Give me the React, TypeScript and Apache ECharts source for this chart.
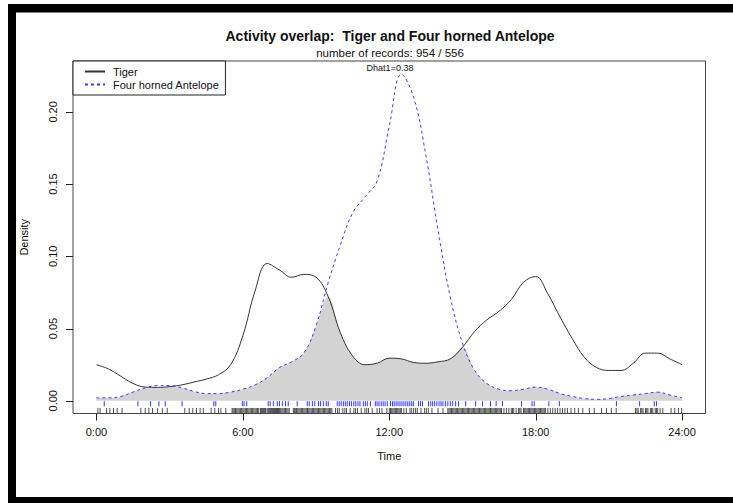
import React, { useEffect, useRef } from "react";
import * as echarts from "echarts";

// Time of day (hours) at which the kernel densities are sampled
const hours = [
  0, 0.5, 1, 1.5, 2, 2.5, 3, 3.5, 4, 4.5, 5, 5.5, 6, 6.5, 7, 7.5, 8, 8.5, 9, 9.5,
  10, 10.5, 11, 11.5, 12, 12.5, 13, 13.5, 14, 14.5, 15, 15.5, 16, 16.5, 17, 17.5,
  18, 18.5, 19, 19.5, 20, 20.5, 21, 21.5, 22, 22.5, 23, 23.5, 24,
];

// Activity density of tiger
const tigerDensity = [
  0.025, 0.022, 0.017, 0.012, 0.0095, 0.0093, 0.0098, 0.011, 0.013, 0.015, 0.018,
  0.025, 0.045, 0.076, 0.095, 0.0905, 0.0855, 0.0875, 0.0855, 0.072, 0.047, 0.031,
  0.025, 0.026, 0.0295, 0.029, 0.0265, 0.026, 0.027, 0.029, 0.037, 0.048, 0.056,
  0.062, 0.07, 0.082, 0.086, 0.074, 0.058, 0.043, 0.03, 0.023, 0.021, 0.021,
  0.026, 0.033, 0.033, 0.029, 0.025,
];

// Activity density of four horned antelope
const antelopeDensity = [
  0.002, 0.002, 0.003, 0.006, 0.009, 0.0105, 0.0105, 0.009, 0.0065, 0.005, 0.005,
  0.006, 0.008, 0.011, 0.016, 0.023, 0.027, 0.033, 0.052, 0.082, 0.108, 0.13,
  0.141, 0.152, 0.19, 0.226, 0.21, 0.17, 0.118, 0.072, 0.04, 0.021, 0.012, 0.008,
  0.007, 0.008, 0.0095, 0.008, 0.005, 0.003, 0.0015, 0.001, 0.0015, 0.003, 0.004,
  0.005, 0.006, 0.004, 0.002,
];

// Record times (hours) for the rug marks
const antelopeTimes = [
  0.32, 1.7, 2.22, 2.56, 2.82, 3.51, 4.81, 4.89, 5.98, 6.05, 6.16, 7.04, 7.12, 7.25,
  7.41, 7.5, 7.62, 7.75, 7.86, 8.23, 8.64, 8.72, 8.85, 8.95, 9.1, 9.18, 9.3, 9.42,
  9.5, 9.87, 9.95, 10.03, 10.12, 10.2, 10.28, 10.37, 10.45, 10.55, 10.63, 10.72,
  10.8, 10.94, 11.02, 11.1, 11.23, 11.43, 11.5, 11.58, 11.67, 11.75, 11.83, 11.92,
  12.05, 12.13, 12.2, 12.28, 12.36, 12.44, 12.52, 12.6, 12.68, 12.76, 12.84, 12.92,
  12.99, 13.2, 13.28, 13.36, 13.61, 13.7, 13.78, 13.86, 13.95, 14.04, 14.12, 14.2,
  14.3, 14.4, 14.5, 14.6, 14.72, 14.84, 15.13, 15.54, 15.82, 16.15, 16.38, 16.64,
  17.42, 17.85, 17.94, 18.54, 18.97, 21.31, 22.26, 22.86, 22.95,
];

const tigerTimes = [
  0.06, 0.15, 0.42, 0.55, 0.7, 0.85, 1.05, 1.82, 2.0, 2.15, 2.3, 2.5, 2.7, 2.9, 3.62,
  3.8, 3.95, 4.1, 4.25, 4.38, 4.7, 4.85, 5.0, 5.1, 5.3, 5.56, 5.6, 5.65, 5.7, 5.75,
  5.8, 5.85, 5.9, 5.95, 6.0, 6.05, 6.1, 6.15, 6.2, 6.25, 6.3, 6.35, 6.4, 6.45, 6.5,
  6.55, 6.6, 6.65, 6.72, 6.76, 6.8, 6.84, 6.88, 6.92, 6.95, 7.02, 7.06, 7.1, 7.14,
  7.18, 7.22, 7.26, 7.3, 7.34, 7.38, 7.42, 7.46, 7.5, 7.55, 7.6, 7.65, 7.7, 7.75,
  7.8, 7.85, 7.9, 8.07, 8.11, 8.15, 8.2, 8.25, 8.3, 8.35, 8.4, 8.45, 8.5, 8.55, 8.6,
  8.65, 8.7, 8.75, 8.8, 8.85, 8.9, 8.95, 9.0, 9.05, 9.1, 9.15, 9.2, 9.25, 9.3, 9.35,
  9.4, 9.45, 9.5, 9.55, 9.6, 9.65, 9.8, 9.88, 9.95, 10.1, 10.18, 10.25, 10.4, 10.55,
  10.62, 10.7, 10.85, 11.0, 11.08, 11.15, 11.3, 11.5, 11.6, 11.7, 11.9, 12.0, 12.05,
  12.1, 12.15, 12.2, 12.25, 12.3, 12.35, 12.4, 12.45, 12.5, 12.6, 12.7, 12.85, 12.92,
  13.0, 13.08, 13.15, 13.3, 13.45, 13.52, 13.6, 13.75, 14.0, 14.2, 14.4, 14.45, 14.5,
  14.55, 14.6, 14.65, 14.7, 14.75, 14.8, 14.85, 14.9, 14.95, 15.0, 15.05, 15.1, 15.15,
  15.2, 15.25, 15.3, 15.35, 15.4, 15.45, 15.5, 15.55, 15.6, 15.65, 15.7, 15.75, 15.8,
  15.85, 15.9, 15.95, 16.0, 16.05, 16.1, 16.15, 16.2, 16.25, 16.3, 16.35, 16.4, 16.45,
  16.5, 16.55, 16.6, 16.7, 16.8, 16.9, 17.0, 17.05, 17.1, 17.2, 17.3, 17.35, 17.4,
  17.5, 17.55, 17.6, 17.65, 17.7, 17.75, 17.8, 17.85, 17.9, 17.95, 18.0, 18.05, 18.1,
  18.15, 18.2, 18.25, 18.3, 18.35, 18.4, 18.5, 18.6, 18.7, 18.8, 18.9, 19.0, 19.1,
  19.2, 19.3, 19.45, 19.6, 19.75, 19.93, 20.2, 20.4, 20.7, 20.9, 21.1, 21.3, 22.09,
  22.15, 22.2, 22.3, 22.35, 22.4, 22.5, 22.55, 22.6, 22.7, 22.75, 22.8, 22.9, 22.95,
  23.0, 23.1, 23.21, 23.55, 23.7, 23.85, 23.98,
];

const xTicks = [0, 6, 12, 18, 24];
const yTicks = [0, 0.05, 0.1, 0.15, 0.2];

const X_MIN = -0.96;
const X_MAX = 24.96;
const Y_MIN = -0.0088;
const Y_MAX = 0.2352;

const titleText = "Activity overlap:  Tiger and Four horned Antelope";
const subtitleText = "number of records: 954 / 556";
const overlapText = "Dhat1=0.38";

const FONT = "'Liberation Sans', Arial, Helvetica, sans-serif";
const TICK_LEN = 7;

export default function App() {
  const ref = useRef<HTMLDivElement>(null);

  useEffect(() => {
    document.body.style.margin = "0";
    if (!ref.current) return;
    const chart = echarts.init(ref.current, null, { renderer: "svg" });

    const overlap = hours.map((h, i) => [h, Math.min(tigerDensity[i], antelopeDensity[i])]);

    const baseGraphic: any[] = [
      { type: "rect", shape: { x: 8, y: 4, width: 725, height: 8.5 }, style: { fill: "#000" } },
      { type: "rect", shape: { x: 8, y: 4, width: 8, height: 499 }, style: { fill: "#000" } },
      { type: "rect", shape: { x: 8, y: 497, width: 725, height: 6 }, style: { fill: "#000" } },
      {
        type: "text",
        x: 390,
        y: 36,
        style: { text: titleText, font: `bold 14px ${FONT}`, fill: "#111", textAlign: "center", textVerticalAlign: "middle", align: "center", verticalAlign: "middle" },
      },
      {
        type: "text",
        x: 390,
        y: 52.5,
        style: { text: subtitleText, font: `11.5px ${FONT}`, fill: "#111", textAlign: "center", textVerticalAlign: "middle", align: "center", verticalAlign: "middle" },
      },
      {
        type: "text",
        x: 390,
        y: 68,
        z: 10,
        style: { text: overlapText, font: `9px ${FONT}`, fill: "#111", textAlign: "center", textVerticalAlign: "middle", align: "center", verticalAlign: "middle" },
      },
    ];

    const option: any = {
      animation: false,
      backgroundColor: "#ffffff",
      textStyle: { fontFamily: FONT },
      grid: { left: 73, right: 27.5, top: 61, bottom: 89.5, show: true, borderColor: "#444", borderWidth: 1, backgroundColor: "transparent" },
      legend: {
        data: ["Tiger", "Four horned Antelope"],
        orient: "vertical",
        left: 73,
        top: 61,
        padding: [5, 6, 5, 11],
        itemWidth: 20,
        itemHeight: 10,
        itemGap: 2,
        borderColor: "#222",
        borderWidth: 1,
        backgroundColor: "#fff",
        itemStyle: { opacity: 0 },
        textStyle: { fontSize: 11, color: "#111", fontFamily: FONT, padding: [0, 0, 0, 3] },
      },
      xAxis: {
        type: "value",
        min: X_MIN,
        max: X_MAX,
        name: "Time",
        nameLocation: "middle",
        nameGap: 37,
        nameTextStyle: { fontSize: 11, color: "#111", fontFamily: FONT },
        axisLine: { show: false, onZero: false },
        splitLine: { show: false },
        axisTick: { show: false },
        axisLabel: {
          customValues: xTicks,
          formatter: (v: number) => `${v}:00`,
          fontSize: 11,
          color: "#111",
          margin: 13,
          fontFamily: FONT,
        },
      },
      yAxis: {
        type: "value",
        min: Y_MIN,
        max: Y_MAX,
        name: "Density",
        nameLocation: "middle",
        nameGap: 44,
        nameTextStyle: { fontSize: 11, color: "#111", fontFamily: FONT },
        axisLine: { show: false, onZero: false },
        splitLine: { show: false },
        axisTick: { show: false },
        axisLabel: {
          customValues: yTicks,
          formatter: (v: number) => v.toFixed(2),
          rotate: 90,
          fontSize: 11,
          color: "#111",
          margin: 15,
          fontFamily: FONT,
        },
      },
      series: [
        {
          name: "overlap",
          type: "line",
          data: overlap,
          smooth: 0.4,
          showSymbol: false,
          symbol: "none",
          lineStyle: { width: 0 },
          areaStyle: { color: "#d3d3d3", opacity: 1 },
          silent: true,
          z: 1,
        },
        {
          name: "Tiger",
          type: "line",
          data: hours.map((h, i) => [h, tigerDensity[i]]),
          smooth: 0.4,
          symbol: "none",
          color: "#333333",
          lineStyle: { width: 1, color: "#333333" },
          z: 3,
        },
        {
          name: "Four horned Antelope",
          type: "line",
          data: hours.map((h, i) => [h, antelopeDensity[i]]),
          smooth: 0.4,
          symbol: "none",
          color: "#3b3bff",
          lineStyle: { width: 1, color: "#3b3bff", type: [3, 3] },
          z: 3,
        },
        {
          name: "antelope records",
          type: "scatter",
          data: antelopeTimes.map((t) => [t, -0.002]),
          symbol: "rect",
          symbolSize: [1, 5],
          itemStyle: { color: "#0000ff" },
          silent: true,
          z: 2,
        },
        {
          name: "tiger records",
          type: "scatter",
          data: tigerTimes.map((t) => [t, -0.0068]),
          symbol: "rect",
          symbolSize: [1, 5],
          itemStyle: { color: "#222222" },
          silent: true,
          z: 2,
        },
      ],
      graphic: baseGraphic,
    };

    chart.setOption(option);

    // Outward tick marks, positioned through the axis scales
    const tickLines: any[] = [];
    xTicks.forEach((v) => {
      const p = chart.convertToPixel({ gridIndex: 0 }, [v, Y_MIN]) as number[];
      if (p) {
        const x = Math.round(p[0]) + 0.5;
        tickLines.push({
          type: "line",
          z: 20,
          shape: { x1: x, y1: p[1], x2: x, y2: p[1] + TICK_LEN },
          style: { stroke: "#222", lineWidth: 1 },
        });
      }
    });
    yTicks.forEach((v) => {
      const p = chart.convertToPixel({ gridIndex: 0 }, [X_MIN, v]) as number[];
      if (p) {
        const y = Math.round(p[1]) + 0.5;
        tickLines.push({
          type: "line",
          z: 20,
          shape: { x1: p[0] - TICK_LEN, y1: y, x2: p[0], y2: y },
          style: { stroke: "#222", lineWidth: 1 },
        });
      }
    });
    chart.setOption({ graphic: [...baseGraphic, ...tickLines] });

    return () => chart.dispose();
  }, []);

  return <div ref={ref} style={{ width: 733, height: 503 }} />;
}
